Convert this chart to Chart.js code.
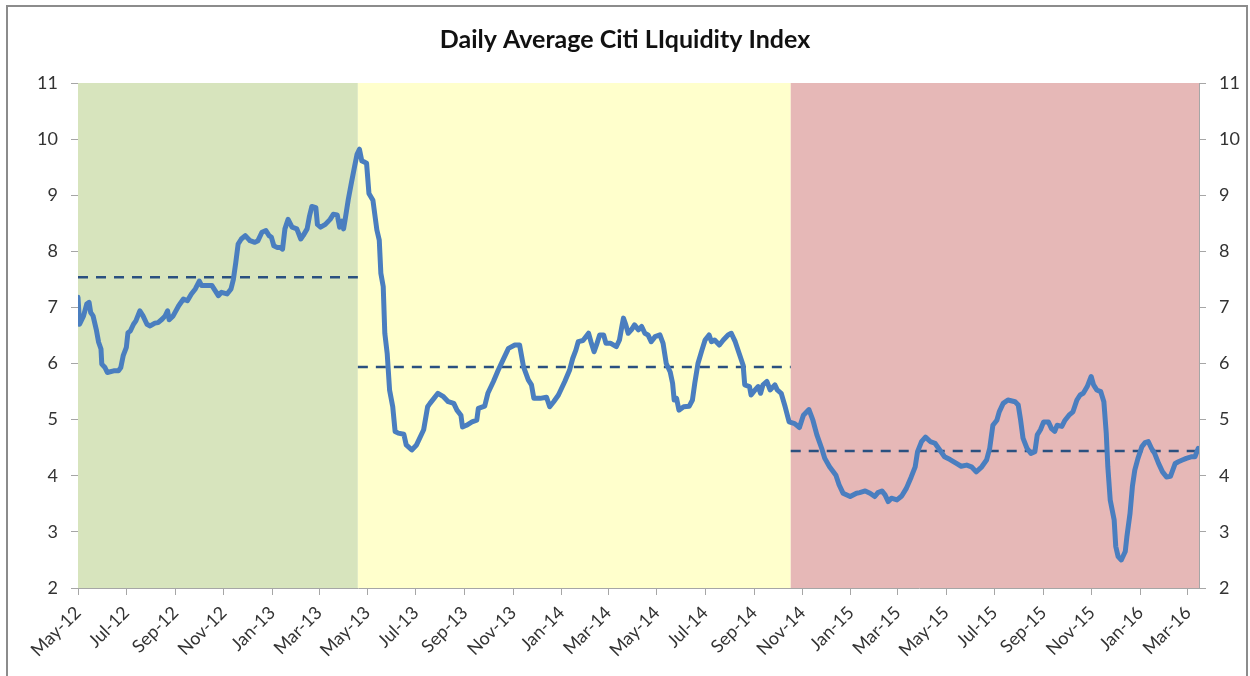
<!DOCTYPE html>
<html lang="en">
<head>
    <meta charset="UTF-8">
    <title>Daily Average Citi LIquidity Index</title>
    <script src="https://cdn.jsdelivr.net/npm/chart.js"></script>
    <style>
        body { margin: 0; background: #ffffff; }
        .wrap { position: relative; width: 1250px; height: 676px; overflow: hidden; }
        /* outer chart frame, like the Excel chart border */
        .frame {
            position: absolute; left: 6px; top: 5px; width: 1238px; height: 720px;
            border: 2px solid #8c8c8c; pointer-events: none;
        }
        canvas { position: absolute; left: 0; top: 0; }
    </style>
</head>
<body>
<div class="wrap">
    <canvas id="chart" width="1250" height="676"></canvas>
    <div class="frame"></div>
</div>
<script>
    // x values are days since 1 May 2012
    const days = [
        0, 2, 7, 11, 14, 16, 19, 23, 26, 29, 30, 34, 37, 45, 51, 54, 57, 61, 63, 66,
        70, 73, 78, 82, 87, 91, 97, 101, 106, 110, 113, 115, 120, 127, 133, 138, 143, 148, 153, 156,
        162, 169, 173, 177, 181, 188, 193, 196, 199, 202, 206, 211, 217, 223, 227, 232, 237, 241, 244, 247,
        251, 255, 258, 261, 265, 270, 276, 281, 284, 289, 292, 295, 300, 302, 306, 312, 318, 322, 327, 330,
        333, 335, 337, 341, 345, 349, 352, 355, 358, 360, 364, 367, 372, 377, 380, 382, 385, 387, 390, 393,
        397, 400, 404, 411, 414, 421, 427, 436, 441, 444, 449, 454, 461, 467, 474, 478, 483, 485, 490, 497,
        503, 505, 513, 517, 524, 530, 536, 543, 551, 557, 562, 568, 572, 575, 583, 591, 595, 600, 606, 610,
        614, 620, 624, 628, 631, 637, 644, 647, 651, 654, 658, 663, 666, 672, 679, 683, 686, 688, 691, 694,
        698, 702, 707, 711, 715, 719, 723, 728, 734, 738, 742, 747, 750, 752, 755, 758, 764, 771, 775, 778,
        782, 787, 791, 796, 799, 803, 809, 814, 820, 824, 829, 834, 839, 841, 847, 849, 854, 858, 861, 864,
        869, 873, 879, 882, 887, 892, 897, 904, 910, 915, 922, 927, 932, 938, 942, 948, 956, 960, 965, 974,
        982, 986, 993, 999, 1005, 1009, 1014, 1018, 1022, 1026, 1033, 1039, 1045, 1051, 1056, 1059, 1064, 1069, 1075, 1081,
        1087, 1093, 1100, 1108, 1114, 1121, 1127, 1133, 1140, 1146, 1150, 1154, 1159, 1162, 1167, 1173, 1182, 1186, 1189, 1192,
        1197, 1202, 1207, 1210, 1214, 1218, 1224, 1228, 1232, 1235, 1241, 1245, 1250, 1255, 1260, 1264, 1268, 1273, 1278, 1281,
        1285, 1290, 1294, 1297, 1299, 1302, 1307, 1309, 1312, 1316, 1321, 1323, 1327, 1330, 1333, 1337, 1342, 1346, 1350, 1354,
        1358, 1363, 1368, 1373, 1378, 1384, 1388, 1393, 1398, 1405, 1409, 1413
    ];
    const liquidity = [
        7.18, 6.70, 6.85, 7.06, 7.09, 6.91, 6.85, 6.61, 6.38, 6.26, 5.99, 5.93, 5.84, 5.87, 5.87, 5.93, 6.14, 6.29, 6.55, 6.58,
        6.70, 6.76, 6.94, 6.85, 6.70, 6.67, 6.72, 6.73, 6.79, 6.85, 6.94, 6.78, 6.85, 7.03, 7.15, 7.12, 7.24, 7.33, 7.47, 7.39,
        7.39, 7.39, 7.30, 7.21, 7.27, 7.24, 7.33, 7.50, 7.80, 8.13, 8.22, 8.28, 8.19, 8.16, 8.19, 8.34, 8.37, 8.28, 8.25, 8.10,
        8.07, 8.07, 8.04, 8.40, 8.57, 8.43, 8.40, 8.22, 8.28, 8.40, 8.63, 8.80, 8.78, 8.48, 8.43, 8.48, 8.57, 8.66, 8.65, 8.43,
        8.54, 8.40, 8.57, 8.93, 9.23, 9.52, 9.73, 9.82, 9.61, 9.60, 9.57, 9.03, 8.91, 8.38, 8.20, 7.61, 7.37, 6.54, 6.18, 5.53,
        5.23, 4.79, 4.76, 4.74, 4.55, 4.46, 4.55, 4.82, 5.23, 5.29, 5.38, 5.47, 5.41, 5.32, 5.29, 5.17, 5.08, 4.87, 4.90, 4.96,
        4.99, 5.20, 5.24, 5.47, 5.68, 5.88, 6.06, 6.27, 6.33, 6.33, 5.94, 5.71, 5.62, 5.38, 5.38, 5.40, 5.23, 5.32, 5.44, 5.56,
        5.68, 5.88, 6.09, 6.24, 6.39, 6.41, 6.54, 6.39, 6.21, 6.33, 6.51, 6.51, 6.36, 6.36, 6.30, 6.42, 6.66, 6.81, 6.69, 6.54,
        6.60, 6.69, 6.60, 6.66, 6.54, 6.51, 6.39, 6.48, 6.51, 6.36, 6.00, 5.85, 5.65, 5.35, 5.38, 5.17, 5.23, 5.24, 5.35, 5.65,
        6.00, 6.24, 6.42, 6.51, 6.39, 6.42, 6.33, 6.42, 6.51, 6.54, 6.39, 6.18, 5.97, 5.62, 5.59, 5.44, 5.53, 5.59, 5.47, 5.62,
        5.68, 5.53, 5.62, 5.53, 5.47, 5.23, 4.96, 4.93, 4.86, 5.08, 5.18, 4.99, 4.73, 4.49, 4.31, 4.16, 4.01, 3.84, 3.69, 3.63,
        3.69, 3.70, 3.73, 3.69, 3.63, 3.70, 3.73, 3.66, 3.54, 3.60, 3.57, 3.64, 3.78, 3.98, 4.16, 4.43, 4.61, 4.69, 4.61, 4.58,
        4.46, 4.34, 4.29, 4.22, 4.17, 4.19, 4.16, 4.07, 4.16, 4.28, 4.49, 4.90, 4.99, 5.14, 5.29, 5.35, 5.32, 5.26, 4.99, 4.67,
        4.49, 4.40, 4.43, 4.73, 4.82, 4.96, 4.96, 4.84, 4.79, 4.90, 4.88, 4.99, 5.08, 5.14, 5.35, 5.44, 5.47, 5.59, 5.77, 5.62,
        5.53, 5.50, 5.32, 4.76, 4.16, 3.57, 3.21, 2.74, 2.56, 2.50, 2.65, 2.91, 3.33, 3.81, 4.10, 4.31, 4.52, 4.59, 4.61, 4.49,
        4.40, 4.22, 4.07, 3.98, 3.99, 4.22, 4.25, 4.28, 4.31, 4.34, 4.34, 4.49
    ];

    // liquidity regimes (days since 1 May 2012) and their average level
    const regionStart = [0, 353, 899];
    const regionEnd = [353, 899, 1414];
    const regionAverage = [7.54, 5.94, 4.44];
    const regionColors = ['#d7e4bd', '#ffffcc', '#e6b8b7'];

    const tickLabels = [
        'May-12', 'Jul-12', 'Sep-12', 'Nov-12', 'Jan-13', 'Mar-13', 'May-13', 'Jul-13',
        'Sep-13', 'Nov-13', 'Jan-14', 'Mar-14', 'May-14', 'Jul-14', 'Sep-14', 'Nov-14',
        'Jan-15', 'Mar-15', 'May-15', 'Jul-15', 'Sep-15', 'Nov-15', 'Jan-16', 'Mar-16'
    ];
    const yTicks = [2, 3, 4, 5, 6, 7, 8, 9, 10, 11];

    const START = Date.UTC(2012, 4, 1);
    const MONTHS = ['Jan', 'Feb', 'Mar', 'Apr', 'May', 'Jun', 'Jul', 'Aug', 'Sep', 'Oct', 'Nov', 'Dec'];
    function labelToDay(lbl) {
        const [m, y] = lbl.split('-');
        return (Date.UTC(2000 + Number(y), MONTHS.indexOf(m), 1) - START) / 86400000;
    }
    const tickDays = tickLabels.map(labelToDay);

    const TEXT = '#333333';
    const AXIS = '#a6a6a6';
    const FONT = 'Lato, "Open Sans", sans-serif';

    // shaded background bands behind the series
    const regionBands = {
        id: 'regionBands',
        beforeDatasetsDraw(chart) {
            const { ctx, chartArea, scales } = chart;
            ctx.save();
            regionStart.forEach((s, i) => {
                const x0 = scales.x.getPixelForValue(s);
                const x1 = scales.x.getPixelForValue(regionEnd[i]);
                ctx.fillStyle = regionColors[i];
                ctx.fillRect(x0, chartArea.top, x1 - x0, chartArea.bottom - chartArea.top);
            });
            ctx.restore();
        }
    };

    const averageSets = regionStart.map((s, i) => ({
        data: [{ x: s, y: regionAverage[i] }, { x: regionEnd[i], y: regionAverage[i] }],
        borderColor: '#2a5080',
        borderWidth: 2.5,
        borderDash: [10, 8],
        pointRadius: 0,
        order: 1
    }));

    const yAxis = (pos, width) => ({
        type: 'linear',
        position: pos,
        min: 2,
        max: 11,
        afterBuildTicks: s => { s.ticks = yTicks.map(v => ({ value: v })); },
        afterFit: s => { s.width = width; },
        grid: { drawOnChartArea: false, drawTicks: true, tickLength: 7, color: AXIS },
        border: { display: true, color: AXIS, width: 1 },
        ticks: { color: TEXT, padding: 13, font: { family: FONT, size: 18 } }
    });

    new Chart(document.getElementById('chart'), {
        type: 'line',
        data: {
            datasets: [{
                data: days.map((d, i) => ({ x: d, y: liquidity[i] })),
                borderColor: '#4a7ebf',
                borderWidth: 5,
                borderJoinStyle: 'round',
                borderCapStyle: 'round',
                pointRadius: 0,
                tension: 0,
                order: 0
            }, ...averageSets]
        },
        options: {
            responsive: false,
            animation: false,
            layout: { padding: { left: 0, right: 0, top: 0, bottom: 0 } },
            plugins: {
                legend: { display: false },
                tooltip: { enabled: false },
                title: {
                    display: true,
                    text: 'Daily Average Citi LIquidity Index',
                    color: '#111111',
                    font: { family: FONT, size: 25, weight: 'bold' },
                    padding: { top: 25, bottom: 28 }
                }
            },
            scales: {
                x: {
                    type: 'linear',
                    min: 0,
                    max: 1414,
                    afterBuildTicks: s => { s.ticks = tickDays.map(v => ({ value: v })); },
                    afterFit: s => { s.height = 88; },
                    grid: { drawOnChartArea: false, drawTicks: true, tickLength: 7, color: AXIS },
                    border: { display: true, color: AXIS, width: 1 },
                    ticks: {
                        autoSkip: false,
                        minRotation: 45,
                        maxRotation: 45,
                        padding: 7,
                        color: TEXT,
                        font: { family: FONT, size: 18 },
                        callback: (v, i) => tickLabels[i]
                    }
                },
                y: yAxis('left', 78),
                y2: yAxis('right', 51)
            }
        },
        plugins: [regionBands]
    });
</script>
</body>
</html>
